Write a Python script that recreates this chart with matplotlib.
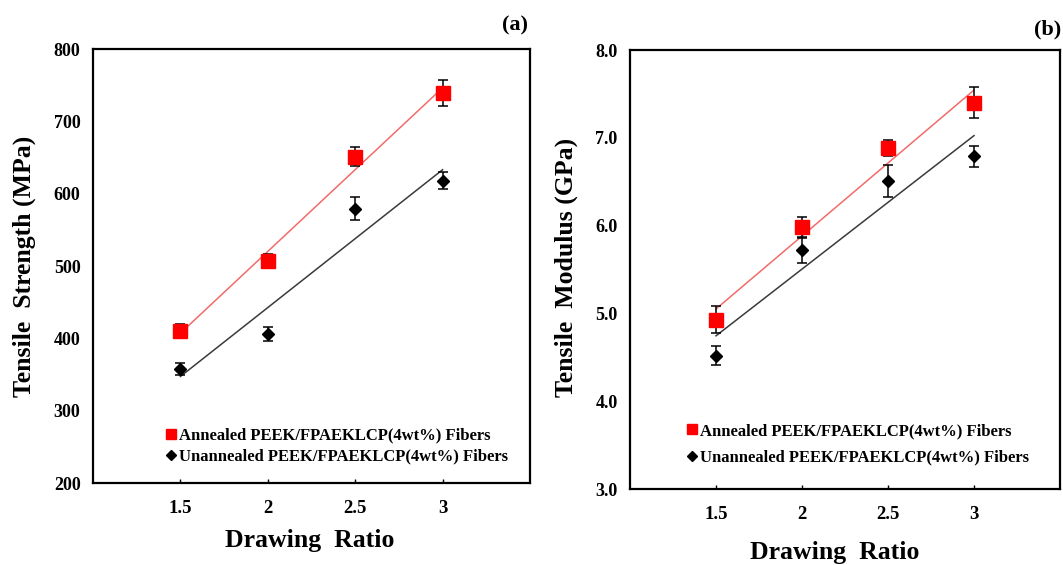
import numpy as np
import matplotlib
matplotlib.use("Agg")
import matplotlib.pyplot as plt
from matplotlib.lines import Line2D

plt.rcParams['font.family'] = ['Liberation Serif', 'DejaVu Serif']
plt.rcParams['font.weight'] = 'bold'

# Drawing ratio of the fibers
ratio = [1.5, 2, 2.5, 3]

# Tensile strength (MPa)
strength_annealed = [410, 507, 651, 739]
strength_annealed_err = [10, 10, 13, 18]
strength_unannealed = [358, 406, 579, 618]
strength_unannealed_err = [8, 10, 16, 12]

# Tensile modulus (GPa)
modulus_annealed = [4.93, 5.98, 6.88, 7.40]
modulus_annealed_err = [0.15, 0.12, 0.09, 0.18]
modulus_unannealed = [4.52, 5.72, 6.51, 6.79]
modulus_unannealed_err = [0.11, 0.15, 0.18, 0.12]

label_annealed = 'Annealed PEEK/FPAEKLCP(4wt%) Fibers'
label_unannealed = 'Unannealed PEEK/FPAEKLCP(4wt%) Fibers'

fig = plt.figure(figsize=(10.63, 5.65), dpi=100)
ax1 = fig.add_axes([0.0875, 0.1451, 0.4111, 0.7681])
ax2 = fig.add_axes([0.5927, 0.1345, 0.4045, 0.7770])


def panel(ax, ya, ea, yu, eu, ylim, yticks, ytickfmt, leg_xy, leg_space):
    x = np.array(ratio)
    # linear trend lines
    for y, c in [(ya, '#f26b6b'), (yu, '#3a3a3a')]:
        k, b = np.polyfit(x, y, 1)
        ax.plot(x, k * x + b, color=c, lw=1.1, zorder=2)
    ax.errorbar(x, yu, yerr=eu, fmt='D', color='black', ms=6.5, ecolor='black',
                elinewidth=1.1, capsize=3.5, capthick=1.1, zorder=3)
    ax.errorbar(x, ya, yerr=ea, fmt='s', color='#ff0000', ms=10, ecolor='black',
                elinewidth=1.1, capsize=3.5, capthick=1.1, zorder=4)
    ax.set_xlim(1.0, 3.5)
    ax.set_ylim(*ylim)
    ax.set_xticks(ratio)
    ax.set_xticklabels(['1.5', '2', '2.5', '3'])
    ax.set_yticks(yticks)
    ax.set_yticklabels([ytickfmt.format(v) for v in yticks])
    ax.tick_params(axis='x', direction='in', length=3, width=1, pad=12, labelsize=13.5)
    ax.tick_params(axis='y', length=0, pad=9, labelsize=13)
    for s in ax.spines.values():
        s.set_linewidth(1.6)
    handles = [
        Line2D([], [], ls='none', marker='s', color='#ff0000', ms=7.5),
        Line2D([], [], ls='none', marker='D', color='black', ms=5),
    ]
    ax.legend(handles, [label_annealed, label_unannealed], loc='center left',
              bbox_to_anchor=leg_xy, frameon=False, fontsize=12,
              handlelength=0.7, handletextpad=0.15, borderpad=0,
              borderaxespad=0, labelspacing=leg_space)


panel(ax1, strength_annealed, strength_annealed_err, strength_unannealed,
      strength_unannealed_err, (200, 800), [200, 300, 400, 500, 600, 700, 800],
      '{:.0f}', (0.165, 0.085), 0.32)
panel(ax2, modulus_annealed, modulus_annealed_err, modulus_unannealed,
      modulus_unannealed_err, (3.0, 8.0), [3.0, 4.0, 5.0, 6.0, 7.0, 8.0],
      '{:.1f}', (0.130, 0.102), 0.62)

W, H = 1063, 565
fig.text(24 / W, 1 - 266 / H, 'Tensile  Strength (MPa)', rotation=90,
         ha='center', va='center', fontsize=18.5)
fig.text(566 / W, 1 - 267 / H, 'Tensile  Modulus (GPa)', rotation=90,
         ha='center', va='center', fontsize=18.5)
fig.text(310 / W, 1 - 541 / H, 'Drawing  Ratio', ha='center', va='center', fontsize=18.5)
fig.text(835 / W, 1 - 552 / H, 'Drawing  Ratio', ha='center', va='center', fontsize=18.5)
fig.text(528 / W, 1 - 25 / H, '(a)', ha='right', va='center', fontsize=16)
fig.text(1061 / W, 1 - 29 / H, '(b)', ha='right', va='center', fontsize=16)

fig.savefig('out.png', dpi=100)
